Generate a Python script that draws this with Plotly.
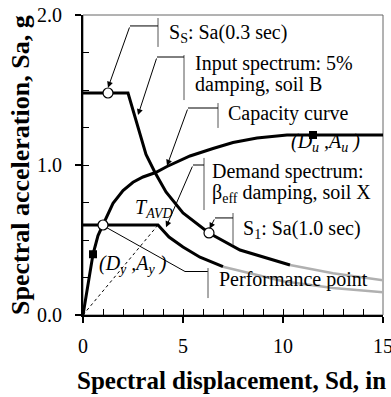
import plotly.graph_objects as go

# ---------------- data ----------------
input_x = [0, 2.25, 3.15, 3.6, 4.15, 5.0, 6.3, 7.85, 10.35]
input_y = [1.48, 1.48, 1.07, 0.95, 0.82, 0.68, 0.547, 0.433, 0.333]
input_tail_x = [10.35, 12.5, 15.0]
input_tail_y = [0.333, 0.278, 0.232]

demand_x = [0, 3.75, 4.3, 5.0, 5.85, 7.0]
demand_y = [0.6, 0.6, 0.52, 0.453, 0.385, 0.322]
demand_tail_x = [7.0, 10.0, 12.5, 15.0]
demand_tail_y = [0.322, 0.225, 0.18, 0.152]

capacity_x = [0, 0.5, 0.75, 1.0, 1.5, 2.0, 2.5, 3.0, 3.63, 4.2, 5.35, 6.5, 7.5, 8.7, 10.2, 15.0]
capacity_y = [0, 0.405, 0.53, 0.6, 0.745, 0.83, 0.885, 0.92, 0.95, 0.99, 1.06, 1.11, 1.15, 1.18, 1.2, 1.2]

tavd_x = [0, 3.75]
tavd_y = [0, 0.6]

open_pts_x = [1.25, 6.3, 1.0]      # Ss, S1, performance point
open_pts_y = [1.48, 0.547, 0.6]
yield_pts_x = [0.5, 11.5]          # (Dy,Ay), (Du,Au)
yield_pts_y = [0.405, 1.2]

x_ticks = [0, 5, 10, 15]
y_ticks = [0.0, 1.0, 2.0]
y_tick_labels = ["0.0", "1.0", "2.0"]

FONT = "Liberation Serif"

fig = go.Figure()
fig.add_trace(go.Scatter(x=input_tail_x, y=input_tail_y, mode="lines",
                         line=dict(color="#b0b0b0", width=2.5), showlegend=False))
fig.add_trace(go.Scatter(x=demand_tail_x, y=demand_tail_y, mode="lines",
                         line=dict(color="#b0b0b0", width=2.5), showlegend=False))
fig.add_trace(go.Scatter(x=tavd_x, y=tavd_y, mode="lines",
                         line=dict(color="black", width=1, dash="3px,3px"), showlegend=False))
fig.add_trace(go.Scatter(x=input_x, y=input_y, mode="lines",
                         line=dict(color="black", width=3), showlegend=False))
fig.add_trace(go.Scatter(x=demand_x, y=demand_y, mode="lines",
                         line=dict(color="black", width=3), showlegend=False))
fig.add_trace(go.Scatter(x=capacity_x, y=capacity_y, mode="lines",
                         line=dict(color="black", width=3), showlegend=False))

# performance-point leader (thin line, no arrow head)
fig.add_trace(go.Scatter(x=[1.15, 5.1, 6.25], y=[0.585, 0.29, 0.29], mode="lines",
                         line=dict(color="black", width=1), showlegend=False))

fig.add_trace(go.Scatter(x=open_pts_x, y=open_pts_y, mode="markers",
                         marker=dict(symbol="circle", size=10, color="white",
                                     line=dict(color="black", width=1.2)),
                         showlegend=False))
fig.add_trace(go.Scatter(x=yield_pts_x, y=yield_pts_y, mode="markers",
                         marker=dict(symbol="square", size=8, color="black"),
                         showlegend=False))
# invisible trace for the overlay axes carrying the inside ticks
fig.add_trace(go.Scatter(x=[0], y=[0], xaxis="x2", yaxis="y2", mode="markers",
                         marker=dict(opacity=0), showlegend=False, hoverinfo="skip"))

# ---------------- callouts ----------------
callouts = [
    # (bracket x, bracket y0, bracket y1, elbow x, elbow y, tip x, tip y)
    (3.75, 1.787, 1.98, 2.35, 1.927, 1.25, 1.515),
    (5.05, 1.433, 1.733, 3.70, 1.72, 2.75, 1.333),
    (6.75, 1.247, 1.413, 5.25, 1.38, 4.2, 0.995),
    (6.05, 0.70, 1.047, 5.50, 1.00, 4.15, 0.585),
    (7.50, 0.467, 0.68, 6.60, 0.647, 6.33, 0.575),
]
shapes = []
annotations = []
for bx, by0, by1, ex, ey, tx, ty in callouts:
    shapes.append(dict(type="line", xref="x", yref="y", x0=bx, x1=bx, y0=by0, y1=by1,
                       line=dict(color="#555555", width=1)))
    shapes.append(dict(type="line", xref="x", yref="y", x0=ex, x1=bx, y0=ey, y1=ey,
                       line=dict(color="black", width=1)))
    annotations.append(dict(x=tx, y=ty, ax=ex, ay=ey, xref="x", yref="y", axref="x", ayref="y",
                            text="", showarrow=True, arrowhead=2, arrowsize=1.2,
                            arrowwidth=1, arrowcolor="black"))
# performance point bracket
shapes.append(dict(type="line", xref="x", yref="y", x0=6.25, x1=6.25, y0=0.113, y1=0.313,
                   line=dict(color="#555555", width=1)))
# frame (top / right)
shapes.append(dict(type="rect", xref="paper", yref="paper", x0=0, x1=1, y0=0, y1=1,
                   line=dict(color="#666666", width=1), layer="below"))

labels = [
    ("S<sub>S</sub>: Sa(0.3 sec)", 4.2, 1.88, "left"),
    ("Input spectrum: 5%", 5.5, 1.675, "left"),
    ("damping, soil B", 5.5, 1.535, "left"),
    ("Capacity curve", 7.15, 1.345, "left"),
    ("Demand spectrum:", 6.35, 0.955, "left"),
    ("β<sub>eff</sub> damping, soil X", 6.35, 0.81, "left"),
    ("S<sub>1</sub>: Sa(1.0 sec)", 7.9, 0.573, "left"),
    ("Performance point", 6.7, 0.235, "left"),
    ("<i>T</i><sub><i>AVD</i></sub>", 2.5, 0.71, "left"),
    ("<i>(D</i><sub><i>y</i></sub><i> ,A</i><sub><i>y</i></sub><i> )</i>", 0.7, 0.335, "left"),
    ("<i>(D</i><sub><i>u</i></sub><i> ,A</i><sub><i>u</i></sub><i> )</i>", 10.3, 1.15, "left"),
]
for txt, x, y, anchor in labels:
    annotations.append(dict(x=x, y=y, xref="x", yref="y", text=txt, showarrow=False,
                            xanchor=anchor, yanchor="middle",
                            font=dict(family=FONT, size=20, color="black")))

# axis titles
annotations.append(dict(x=0.495, y=-0.218, xref="paper", yref="paper",
                        text="<b>Spectral displacement, Sd, in</b>", showarrow=False,
                        xanchor="center", yanchor="middle",
                        font=dict(family=FONT, size=25, color="black")))
annotations.append(dict(x=-0.21, y=0.5, xref="paper", yref="paper",
                        text="<b>Spectral acceleration, Sa, g</b>", showarrow=False,
                        textangle=-90, xanchor="center", yanchor="middle",
                        font=dict(family=FONT, size=26, color="black")))

axis_common = dict(showgrid=False, zeroline=False, automargin=False)
fig.update_layout(
    width=391, height=397,
    margin=dict(l=83, r=8, t=15, b=82),
    paper_bgcolor="white", plot_bgcolor="white",
    font=dict(family=FONT, size=20, color="black"),
    showlegend=False,
    xaxis=dict(range=[0, 15], tickvals=x_ticks, ticks="outside", ticklen=6, tickwidth=1.5,
               tickcolor="black", showline=True, linecolor="black", linewidth=2,
               ticklabelstandoff=6, ticklabeloverflow="allow",
               tickfont=dict(family=FONT, size=20), **axis_common),
    yaxis=dict(range=[0, 2], tickvals=y_ticks, ticktext=y_tick_labels, ticks="outside",
               ticklen=6, tickwidth=1.5, tickcolor="black", showline=True, linecolor="black",
               linewidth=2, ticklabelstandoff=9, ticklabeloverflow="allow",
               tickfont=dict(family=FONT, size=20), **axis_common),
    xaxis2=dict(range=[0, 15], overlaying="x", anchor="y2", side="bottom", ticks="inside",
                tick0=0, dtick=1, ticklen=6, tickwidth=1.2, tickcolor="black",
                showticklabels=False, showline=False, **axis_common),
    yaxis2=dict(range=[0, 2], overlaying="y", anchor="x2", side="left", ticks="inside",
                tick0=0, dtick=0.25, ticklen=6, tickwidth=1.2, tickcolor="black",
                showticklabels=False, showline=False, **axis_common),
    shapes=shapes,
    annotations=annotations,
)

fig.write_html("out.html", config={"displayModeBar": False},
               post_script="document.body.style.margin='0';document.body.style.padding='0';")
